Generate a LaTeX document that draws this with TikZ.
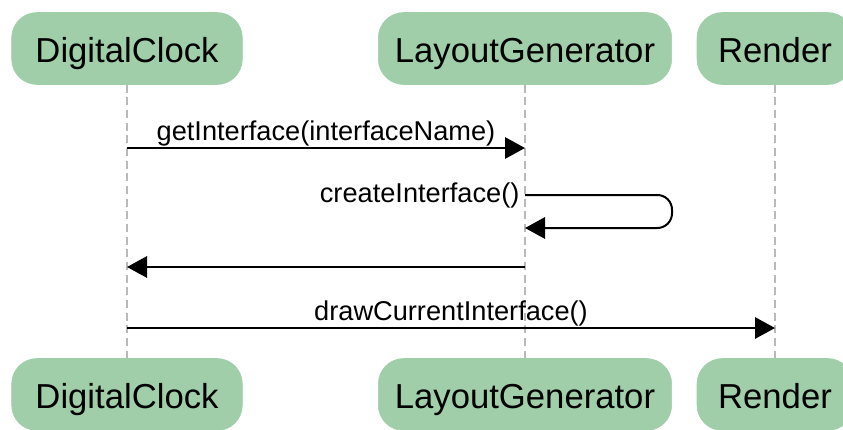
\documentclass[tikz,border=0pt]{standalone}
\usepackage{fontspec}
\setmainfont{Liberation Sans}
\usetikzlibrary{arrows.meta}

\definecolor{actorgreen}{RGB}{160,206,169}
\definecolor{lifegray}{RGB}{185,185,185}

\tikzset{
	actor/.style={fill=actorgreen, draw=actorgreen, rounded corners=19pt, minimum height=54pt, inner sep=0pt, text height=25pt, text depth=3.4pt, font=\fontsize{26}{30}\selectfont},
	lifeline/.style={draw=lifegray, line width=0.9pt, dash pattern=on 6pt off 3.5pt},
	msg/.style={line width=1.5pt, -{Triangle[length=15pt,width=16pt]}},
	msglabel/.style={font=\fontsize{20.4}{24}\selectfont, inner sep=1pt}
}

\begin{document}
\begin{tikzpicture}[x=0.75pt,y=-0.75pt]

	\clip (0,0) rectangle (843,429);

	\node[actor, minimum width=173pt] (dcT) at (127,48.5) {DigitalClock};
	\node[actor, minimum width=220pt] (lgT) at (525,48.5) {LayoutGenerator};
	\node[actor, minimum width=117pt] (rnT) at (775,48.5) {Render};

	\node[actor, minimum width=173pt] (dcB) at (127,394.5) {DigitalClock};
	\node[actor, minimum width=220pt] (lgB) at (525,394.5) {LayoutGenerator};
	\node[actor, minimum width=117pt] (rnB) at (775,394.5) {Render};

	\draw[lifeline] (dcT) -- (dcB);
	\draw[lifeline] (lgT) -- (lgB);
	\draw[lifeline] (rnT) -- (rnB);

	\coordinate (getA) at (127,148);
	\coordinate (getB) at (525,148);
	\coordinate (selfA) at (525,195);
	\coordinate (selfB) at (525,228);
	\coordinate (retA) at (525,267);
	\coordinate (retB) at (127,267);
	\coordinate (drawA) at (127,328);
	\coordinate (drawB) at (775,328);

	\draw[msg] (getA) -- node[msglabel, above] {getInterface(interfaceName)} (getB);

	\draw[msg, rounded corners=11pt] (selfA) -- (672,195) -- (672,228) -- (selfB);
	\node[msglabel, left, inner xsep=4pt] at (selfA) {createInterface()};

	\draw[msg] (retA) -- (retB);

	\draw[msg] (drawA) -- node[msglabel, above] {drawCurrentInterface()} (drawB);

\end{tikzpicture}
\end{document}
